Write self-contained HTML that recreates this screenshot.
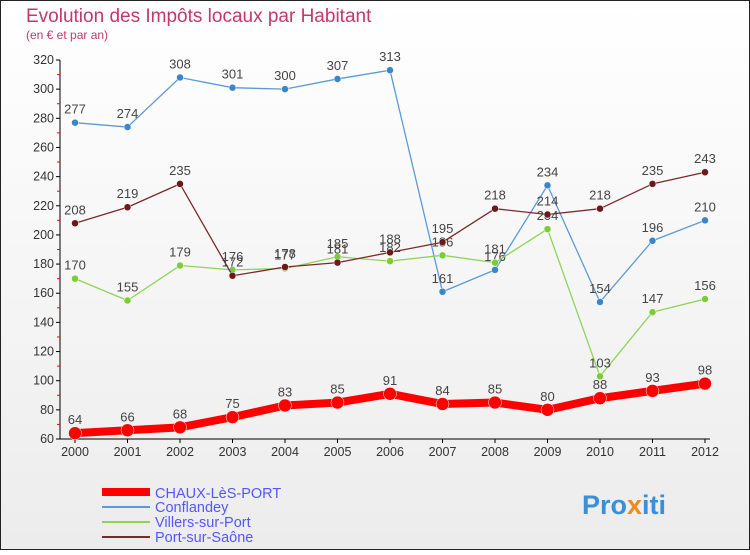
<!DOCTYPE html>
<html><head><meta charset="utf-8"><style>
body{margin:0;}
svg text{font-family:"Liberation Sans","DejaVu Sans",sans-serif;}
</style></head><body>
<svg width="750" height="550" xmlns="http://www.w3.org/2000/svg">
<defs><linearGradient id="bg" x1="0" y1="0" x2="0" y2="1"><stop offset="0" stop-color="#ffffff"/><stop offset="1" stop-color="#ececec"/></linearGradient></defs>
<rect x="0.5" y="0.5" width="749" height="549" fill="url(#bg)" stroke="#222"/>
<text x="26" y="22" font-size="19" fill="#c0396a">Evolution des Impôts locaux par Habitant</text>
<text x="26" y="39" font-size="12" fill="#c0396a">(en € et par an)</text>
<g id="axes"></g>
<g id="series"></g>
<g>
<line x1="102" y1="492" x2="150" y2="492" stroke="#f00" stroke-width="8"/>
<text x="155" y="498" font-size="14.5" fill="#5555ff">CHAUX-LèS-PORT</text>
<line x1="102" y1="507" x2="150" y2="507" stroke="#5b9bd5" stroke-width="2"/>
<text x="155" y="512" font-size="14.5" fill="#5555ff">Conflandey</text>
<line x1="102" y1="522" x2="150" y2="522" stroke="#8fd45a" stroke-width="2"/>
<text x="155" y="527" font-size="14.5" fill="#5555ff">Villers-sur-Port</text>
<line x1="102" y1="537" x2="150" y2="537" stroke="#7a2a2a" stroke-width="2"/>
<text x="155" y="542" font-size="14.5" fill="#5555ff">Port-sur-Saône</text>
</g>
<text x="582" y="514" font-size="27" font-weight="bold" fill="#3a8fd8">Pro<tspan fill="#f08a1c">x</tspan>iti</text>
</svg>
<script>
const years=[2000,2001,2002,2003,2004,2005,2006,2007,2008,2009,2010,2011,2012];
const yTicks=[60,80,100,120,140,160,180,200,220,240,260,280,300,320];
const chaux=[64,66,68,75,83,85,91,84,85,80,88,93,98];
const conflandey=[277,274,308,301,300,307,313,161,176,234,154,196,210];
const villers=[170,155,179,176,177,185,182,186,181,204,103,147,156];
const port=[208,219,235,172,178,181,188,195,218,214,218,235,243];
const NS="http://www.w3.org/2000/svg";
const x=i=>75+i*52.5;
const y=v=>439-(v-60)*(379/260);
function mk(tag,attrs,parent){const e=document.createElementNS(NS,tag);for(const k in attrs)e.setAttribute(k,attrs[k]);parent.appendChild(e);return e;}
const ax=document.getElementById('axes');
let a=mk('line',{x1:60,y1:y(320),x2:60,y2:439,stroke:'#000'},ax);


a=mk('line',{x1:60,y1:439,x2:710,y2:439,stroke:'#000'},ax);


yTicks.forEach((v,i)=>{
 mk('line',{x1:56,y1:y(v),x2:60,y2:y(v),stroke:'#000'},ax);
 if(i<yTicks.length-1)mk('line',{x1:57,y1:y(v+10),x2:60,y2:y(v+10),stroke:'#f00'},ax);
 const t=mk('text',{x:54,y:y(v)+4,'font-size':12.5,'text-anchor':'end',fill:'#333'},ax);
 t.textContent=v;
 
 
});
years.forEach((yr,i)=>{
 mk('line',{x1:x(i),y1:439,x2:x(i),y2:443,stroke:'#000'},ax);
 const t=mk('text',{x:x(i),y:456,'font-size':12.5,'text-anchor':'middle',fill:'#333'},ax);
 t.textContent=yr;
 
 
});
const sg=document.getElementById('series');
function series(data,color,w,r,name,fill){
 const g=mk('g',{},sg);
 
 
 let p='';
 data.forEach((v,i)=>{p+=(i?'L':'M')+x(i)+','+y(v);});
 let pth=mk('path',{d:p,fill:'none',stroke:color,'stroke-width':w,'stroke-linejoin':'round'},g);
 
 
 data.forEach((v,i)=>{
  const c=mk('circle',{cx:x(i),cy:y(v),r:r,fill:fill,stroke:'#fff','stroke-width':0.5},g);
  
  
  const t=mk('text',{x:x(i),y:y(v)-9,'font-size':13,'text-anchor':'middle',fill:'#444'},g);
  t.textContent=v;
  
  
 });
}
series(conflandey,'#5b9bd5',1.3,3.5,'conflandey-series','#3a86c8');
series(villers,'#8fd45a',1.3,3.5,'villers-series','#7ccc3a');
series(port,'#7a2a2a',1.3,3.5,'port-series','#6a1a1a');
series(chaux,'#f00',8,6.5,'chaux-series','#f00');
</script>
</body></html>
